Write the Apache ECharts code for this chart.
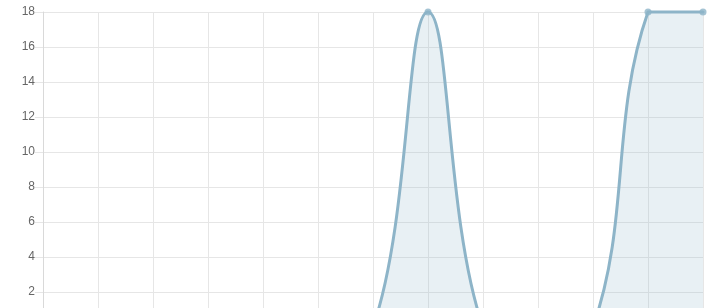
<!DOCTYPE html>
<html>
<head>
<meta charset="utf-8">
<script src="https://cdn.jsdelivr.net/npm/echarts@6/dist/echarts.min.js"></script>
<style>
html,body{margin:0;padding:0;background:#fff;overflow:hidden;width:722px;height:308px;}
#chart{width:722px;height:360px;}
</style>
</head>
<body>
<div id="chart"></div>
<script>
const categories = ['1','2','3','4','5','6','7','8','9','10','11','12','13'];
const values = [0,0,0,0,0,0,0,18,0,0,0,18,18];
const yTicks = {min:0, max:18, interval:2};

const LINE = '#8db4c8';
const FILL = 'rgba(141,180,200,0.2)';
const TENSION = 0.4;

function splinePath(api, params) {
  const cs = params.coordSys;
  const top = cs.y, bottom = cs.y + cs.height, left = cs.x, right = cs.x + cs.width;
  const pts = values.map((v, i) => api.coord([i, v]));
  const n = pts.length;
  const cps = [];
  const clampX = x => Math.max(left, Math.min(right, x));
  const clampY = y => Math.max(top, Math.min(bottom, y));
  for (let i = 0; i < n; i++) {
    const cur = pts[i];
    const prev = i > 0 ? pts[i - 1] : cur;
    const next = i < n - 1 ? pts[i + 1] : cur;
    const d01 = Math.hypot(cur[0] - prev[0], cur[1] - prev[1]);
    const d12 = Math.hypot(next[0] - cur[0], next[1] - cur[1]);
    let s01 = d01 / (d01 + d12), s12 = d12 / (d01 + d12);
    if (isNaN(s01)) s01 = 0;
    if (isNaN(s12)) s12 = 0;
    const fa = TENSION * s01, fb = TENSION * s12;
    cps.push({
      px: clampX(cur[0] - fa * (next[0] - prev[0])),
      py: clampY(cur[1] - fa * (next[1] - prev[1])),
      nx: clampX(cur[0] + fb * (next[0] - prev[0])),
      ny: clampY(cur[1] + fb * (next[1] - prev[1]))
    });
  }
  let d = 'M' + pts[0][0] + ' ' + pts[0][1];
  for (let i = 1; i < n; i++) {
    d += ' C' + cps[i - 1].nx + ' ' + cps[i - 1].ny + ' ' + cps[i].px + ' ' + cps[i].py + ' ' + pts[i][0] + ' ' + pts[i][1];
  }
  const base = api.coord([0, 0])[1];
  const fillD = d + ' L' + pts[n - 1][0] + ' ' + base + ' L' + pts[0][0] + ' ' + base + ' Z';
  return {d, fillD};
}

const chart = echarts.init(document.getElementById('chart'), null, {renderer:'canvas'});
chart.setOption({
  animation:false,
  grid:{left:43, right:19, top:12, bottom:33, containLabel:false},
  xAxis:{
    type:'category', data:categories, boundaryGap:false,
    axisLine:{show:true, lineStyle:{color:'#d9d9d9'}},
    axisTick:{show:false},
    axisLabel:{color:'#666', fontSize:12, fontFamily:'Liberation Sans, Arial'},
    splitLine:{show:true, lineStyle:{color:'#e6e6e6', width:1}}
  },
  yAxis:{
    type:'value', min:yTicks.min, max:yTicks.max, interval:yTicks.interval,
    axisLine:{show:true, lineStyle:{color:'#d9d9d9'}},
    axisTick:{show:true, length:8, lineStyle:{color:'#e6e6e6'}},
    axisLabel:{color:'#666', fontSize:12, margin:8, fontFamily:'Liberation Sans, Arial'},
    splitLine:{show:true, lineStyle:{color:'#e6e6e6', width:1}}
  },
  series:[{
    type:'custom',
    data: values.map((v, i) => [i, v]),
    encode:{x:0, y:1},
    renderItem: function(params, api) {
      if (params.dataIndex !== 0) return null;
      const p = splinePath(api, params);
      return {
        type:'group',
        children:[
          {type:'path', shape:{pathData:p.fillD}, style:{fill:FILL, stroke:null}},
          {type:'path', shape:{pathData:p.d}, style:{fill:null, stroke:LINE, lineWidth:3, lineJoin:'round', lineCap:'round'}}
        ]
      };
    },
    z:2
  },{
    type:'scatter',
    data: values.map((v, i) => [i, v]),
    symbol:'circle', symbolSize:7,
    itemStyle:{color:LINE},
    z:3
  }]
});
</script>
</body>
</html>
